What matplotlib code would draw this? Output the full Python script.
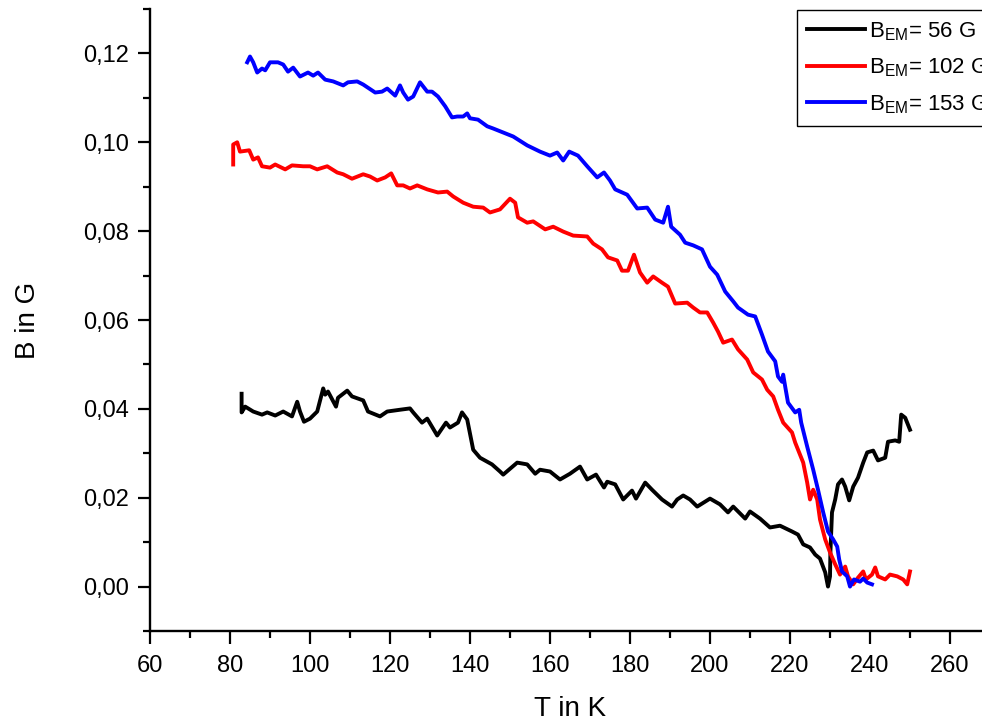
import matplotlib
matplotlib.use("Agg")
import matplotlib.pyplot as plt
from matplotlib.ticker import MultipleLocator, FuncFormatter

plt.rcParams['font.family'] = ['Liberation Sans', 'DejaVu Sans']
plt.rcParams['mathtext.fontset'] = 'custom'
plt.rcParams['mathtext.rm'] = 'Liberation Sans'
plt.rcParams['mathtext.it'] = 'Liberation Sans:italic'

# B_EM = 56 G
t_56 = [82.9, 82.9, 83.8, 85.8, 88.0, 89.3, 91.3, 93.3, 95.5, 96.8, 97.5, 98.5, 100.0,
        101.8, 103.3, 103.8, 104.5, 106.5, 107.0, 109.3, 110.5, 113.3, 114.5, 117.5,
        119.3, 122.5, 125.0, 125.8, 128.0, 129.3, 131.8, 134.0, 135.0, 137.0, 138.0,
        139.3, 140.8, 142.5, 145.5, 147.5, 148.3, 151.8, 154.3, 156.3, 157.5, 160.0,
        162.5, 165.0, 167.5, 169.3, 171.5, 173.5, 174.3, 176.3, 178.3, 180.5, 181.5,
        183.8, 185.5, 188.0, 190.5, 191.8, 193.3, 195.0, 196.8, 200.0, 202.5, 204.5,
        205.8, 208.8, 210.0, 212.5, 215.0, 217.5, 220.5, 222.0, 223.3, 225.0, 226.3,
        227.5, 228.8, 229.5, 230.0, 230.1, 230.5, 231.3, 232.0, 233.0, 233.8, 234.8,
        235.8, 237.0, 238.3, 239.3, 240.8, 242.0, 243.8, 244.5, 246.3, 247.3, 247.8,
        248.8, 250.0]
b_56 = [0.0434, 0.0392, 0.0405, 0.0394, 0.0387, 0.0392, 0.0385, 0.0394, 0.0383, 0.0416,
        0.0394, 0.0371, 0.0378, 0.0394, 0.0446, 0.0432, 0.0439, 0.0405, 0.0425, 0.0441,
        0.0428, 0.0419, 0.0394, 0.0383, 0.0394, 0.0398, 0.0401, 0.0392, 0.0369, 0.0378,
        0.0340, 0.0369, 0.0358, 0.0369, 0.0392, 0.0376, 0.0308, 0.0290, 0.0275, 0.0259,
        0.0252, 0.0279, 0.0275, 0.0254, 0.0263, 0.0259, 0.0241, 0.0254, 0.0270, 0.0241,
        0.0252, 0.0223, 0.0236, 0.0230, 0.0196, 0.0216, 0.0198, 0.0234, 0.0218, 0.0196,
        0.0180, 0.0196, 0.0205, 0.0196, 0.0180, 0.0198, 0.0185, 0.0167, 0.0180, 0.0153,
        0.0169, 0.0153, 0.0133, 0.0137, 0.0124, 0.0117, 0.0095, 0.0088, 0.0072, 0.0063,
        0.0032, 0.0000, 0.0023, 0.0077, 0.0167, 0.0196, 0.0230, 0.0241, 0.0225, 0.0194,
        0.0225, 0.0245, 0.0279, 0.0302, 0.0306, 0.0284, 0.0290, 0.0326, 0.0329, 0.0326,
        0.0387, 0.0380, 0.0353]

# B_EM = 102 G
t_102 = [80.8, 80.8, 81.8, 82.5, 84.8, 85.8, 87.0, 88.0, 90.0, 91.3, 93.8, 95.5, 98.3,
         100.0, 101.8, 104.3, 106.8, 108.3, 110.5, 113.3, 115.0, 116.8, 118.8, 120.3,
         121.8, 123.3, 125.0, 126.8, 129.3, 132.0, 134.3, 135.8, 138.3, 140.8, 143.3,
         145.0, 147.5, 150.0, 151.3, 152.0, 154.3, 155.8, 158.8, 160.8, 163.3, 165.8,
         169.3, 170.8, 173.0, 174.5, 176.8, 178.0, 179.5, 181.0, 182.5, 184.3, 185.8,
         188.0, 189.5, 191.3, 194.3, 195.8, 197.5, 199.3, 200.8, 202.0, 203.3, 205.5,
         207.0, 209.3, 210.8, 213.0, 214.3, 215.8, 217.0, 218.3, 220.5, 221.3, 223.3,
         224.3, 225.0, 225.8, 226.8, 227.5, 228.8, 230.0, 231.3, 232.5, 233.8, 234.5,
         235.8, 237.0, 238.3, 239.0, 240.5, 241.3, 242.0, 243.8, 245.0, 246.8, 248.3,
         249.3, 250.0]
b_102 = [0.0950, 0.0995, 0.1000, 0.0979, 0.0982, 0.0961, 0.0966, 0.0946, 0.0943, 0.0950,
         0.0939, 0.0948, 0.0946, 0.0946, 0.0939, 0.0946, 0.0932, 0.0928, 0.0918, 0.0928,
         0.0923, 0.0914, 0.0921, 0.0930, 0.0903, 0.0903, 0.0896, 0.0903, 0.0894, 0.0887,
         0.0889, 0.0878, 0.0864, 0.0855, 0.0853, 0.0842, 0.0849, 0.0873, 0.0864, 0.0831,
         0.0819, 0.0822, 0.0804, 0.0810, 0.0799, 0.0790, 0.0788, 0.0772, 0.0759, 0.0741,
         0.0734, 0.0711, 0.0711, 0.0747, 0.0707, 0.0684, 0.0698, 0.0684, 0.0675, 0.0637,
         0.0639, 0.0628, 0.0617, 0.0617, 0.0594, 0.0574, 0.0549, 0.0556, 0.0534, 0.0511,
         0.0482, 0.0466, 0.0443, 0.0428, 0.0398, 0.0369, 0.0347, 0.0324, 0.0279, 0.0234,
         0.0196, 0.0218, 0.0196, 0.0151, 0.0106, 0.0077, 0.0050, 0.0027, 0.0045, 0.0023,
         0.0005, 0.0020, 0.0034, 0.0016, 0.0027, 0.0043, 0.0023, 0.0016, 0.0027, 0.0023,
         0.0016, 0.0005, 0.0034]

# B_EM = 153 G
t_153 = [84.3, 85.0, 85.8, 86.8, 88.0, 88.8, 90.0, 92.0, 93.3, 94.5, 95.8, 97.5, 99.5,
         100.8, 102.0, 103.8, 105.8, 108.3, 109.5, 111.8, 113.3, 116.3, 118.0, 119.3,
         121.3, 122.5, 123.3, 124.5, 125.8, 127.5, 129.3, 130.5, 132.0, 133.8, 135.5,
         136.8, 138.3, 139.3, 140.0, 142.0, 144.3, 145.8, 148.3, 150.8, 154.3, 157.5,
         160.0, 161.8, 163.3, 164.8, 167.0, 169.3, 171.8, 173.5, 175.0, 176.3, 179.3,
         181.8, 184.3, 186.3, 188.3, 189.5, 190.3, 192.5, 193.8, 195.8, 198.0, 200.0,
         201.8, 203.8, 205.8, 207.0, 209.5, 211.3, 213.0, 214.5, 216.3, 217.0, 218.0,
         218.3, 218.8, 219.5, 221.3, 222.3, 222.8, 224.3, 225.8, 227.0, 228.3, 229.5,
         230.8, 231.8, 232.3, 233.0, 234.3, 235.0, 236.0, 237.5, 238.3, 239.3, 240.5]
b_153 = [0.1180, 0.1193, 0.1180, 0.1157, 0.1166, 0.1162, 0.1180, 0.1180, 0.1175, 0.1159,
         0.1168, 0.1148, 0.1157, 0.1150, 0.1157, 0.1141, 0.1137, 0.1128, 0.1135, 0.1137,
         0.1130, 0.1112, 0.1114, 0.1121, 0.1105, 0.1128, 0.1112, 0.1096, 0.1103, 0.1135,
         0.1114, 0.1114, 0.1103, 0.1081, 0.1056, 0.1058, 0.1058, 0.1065, 0.1054, 0.1051,
         0.1036, 0.1031, 0.1022, 0.1013, 0.0993, 0.0979, 0.0970, 0.0977, 0.0959, 0.0979,
         0.0970, 0.0946, 0.0921, 0.0932, 0.0914, 0.0894, 0.0882, 0.0851, 0.0853, 0.0826,
         0.0819, 0.0855, 0.0810, 0.0792, 0.0774, 0.0768, 0.0759, 0.0720, 0.0702, 0.0664,
         0.0642, 0.0628, 0.0612, 0.0608, 0.0567, 0.0529, 0.0507, 0.0473, 0.0461, 0.0477,
         0.0450, 0.0414, 0.0392, 0.0398, 0.0369, 0.0315, 0.0263, 0.0218, 0.0167, 0.0124,
         0.0106, 0.0090, 0.0061, 0.0034, 0.0023, 0.0000, 0.0016, 0.0011, 0.0018, 0.0009,
         0.0005]

fig = plt.figure(figsize=(9.82, 7.22), dpi=100)
# axis runs to 270 K, past the right edge of the picture
ax = fig.add_axes([150 / 982, 91 / 722, 840 / 982, 622 / 722])

lw = 2.8
ax.plot(t_56, b_56, color='black', lw=lw, label=r'B$_{\mathrm{EM}}$= 56 G')
ax.plot(t_102, b_102, color='#ff0000', lw=lw, label=r'B$_{\mathrm{EM}}$= 102 G')
ax.plot(t_153, b_153, color='#0000ff', lw=lw, label=r'B$_{\mathrm{EM}}$= 153 G')

ax.set_xlim(60, 270)
ax.set_ylim(-0.01, 0.13)
ax.xaxis.set_major_locator(MultipleLocator(20))
ax.xaxis.set_minor_locator(MultipleLocator(10))
ax.yaxis.set_major_locator(MultipleLocator(0.02))
ax.yaxis.set_minor_locator(MultipleLocator(0.01))
ax.yaxis.set_major_formatter(FuncFormatter(lambda v, p: f'{v:.2f}'.replace('.', ',')))

for s in ['top', 'right']:
    ax.spines[s].set_visible(False)
for s in ['left', 'bottom']:
    ax.spines[s].set_linewidth(1.7)

ax.tick_params(which='major', direction='out', length=9, width=1.6, labelsize=17)
ax.tick_params(which='minor', direction='out', length=5, width=1.6)
ax.tick_params(axis='x', which='major', pad=8)
ax.tick_params(axis='y', which='major', pad=6)

ax.set_xlabel('T in K', fontsize=20, labelpad=14)
ax.set_ylabel('B in G', fontsize=20, labelpad=30)

# legend box runs off the right edge, as in the original figure
leg = fig.legend(loc='upper left', bbox_to_anchor=(797 / 982, 1 - 10 / 722),
                 fontsize=16, handlelength=2.6, handletextpad=0.2,
                 borderpad=0.45, labelspacing=0.63, fancybox=False,
                 edgecolor='black', framealpha=1, borderaxespad=0)
leg.get_frame().set_linewidth(1.0)

fig.savefig('out.png', dpi=100)
